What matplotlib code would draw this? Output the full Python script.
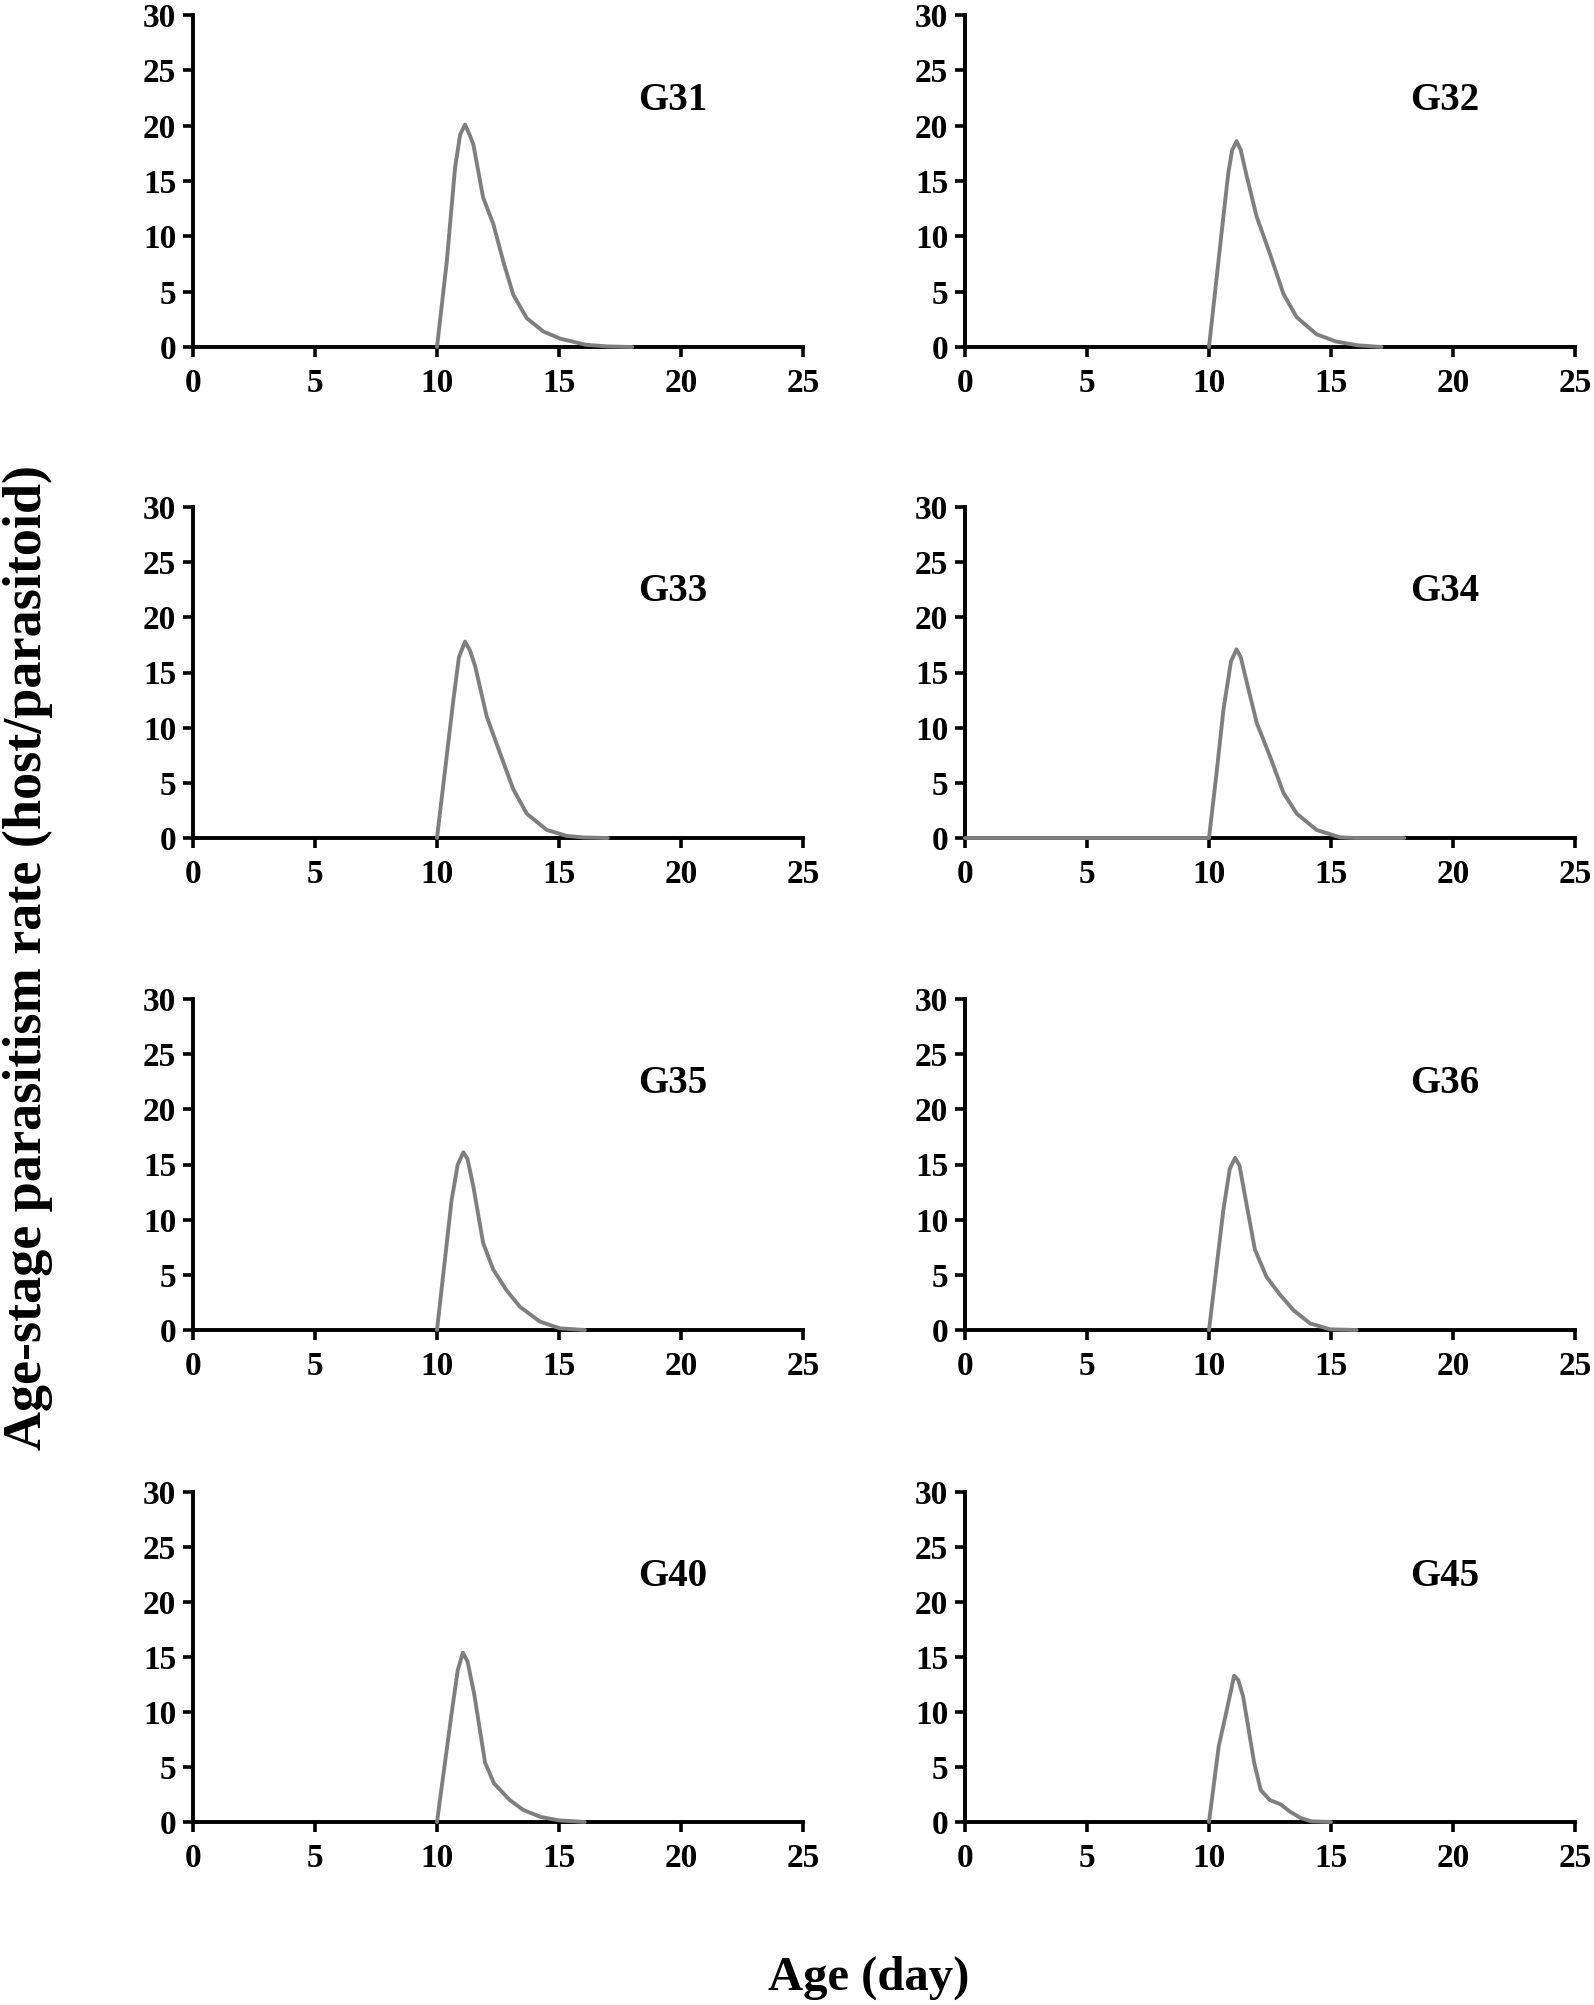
import matplotlib
matplotlib.use("Agg")
import matplotlib.pyplot as plt

plt.rcParams['font.family'] = ['Liberation Serif', 'DejaVu Serif']
plt.rcParams['font.weight'] = 'bold'

panel_names = ["G31", "G32", "G33", "G34", "G35", "G36", "G40", "G45"]

age_G31 = [10, 10.4, 10.74, 10.95, 11.15, 11.35, 11.49, 11.89, 12.31, 12.72, 13.13, 13.68, 14.36, 15.04, 16.1, 17, 18]
val_G31 = [0, 7.7, 16.2, 19.2, 20.1, 19.1, 18.3, 13.5, 11.1, 7.7, 4.7, 2.6, 1.4, 0.76, 0.2, 0.05, 0]

age_G32 = [10, 10.59, 10.79, 10.95, 11.13, 11.3, 11.55, 11.95, 12.5, 13.05, 13.59, 14.41, 15.2, 16.1, 17.07]
val_G32 = [0, 11.8, 15.7, 17.8, 18.6, 17.8, 15.4, 11.8, 8.4, 4.8, 2.7, 1.15, 0.5, 0.15, 0]

age_G33 = [10, 10.67, 10.9, 11.15, 11.35, 11.56, 12.04, 12.58, 13.13, 13.68, 14.5, 15.3, 16, 17]
val_G33 = [0, 12.5, 16.4, 17.8, 17.0, 15.6, 11.0, 7.7, 4.4, 2.2, 0.73, 0.2, 0.05, 0]

age_G34 = [0, 9.7, 10, 10.31, 10.59, 10.9, 11.13, 11.3, 11.55, 11.96, 12.5, 13.05, 13.6, 14.41, 15.37, 16, 18]
val_G34 = [0, 0, 0, 5.9, 11.6, 16.0, 17.1, 16.4, 14.1, 10.4, 7.4, 4.1, 2.2, 0.73, 0.06, 0, 0]

age_G35 = [10, 10.6, 10.85, 11.08, 11.25, 11.49, 11.89, 12.3, 12.85, 13.4, 14.22, 15.04, 16.06]
val_G35 = [0, 11.8, 15.0, 16.1, 15.5, 13.0, 7.9, 5.5, 3.6, 2.1, 0.76, 0.15, 0]

age_G36 = [10, 10.59, 10.85, 11.07, 11.25, 11.48, 11.88, 12.36, 12.91, 13.46, 14.14, 14.96, 16.05]
val_G36 = [0, 10.9, 14.6, 15.6, 14.9, 12.1, 7.3, 4.8, 3.2, 1.8, 0.6, 0.06, 0]

age_G40 = [10, 10.6, 10.85, 11.06, 11.25, 11.52, 11.97, 12.34, 12.98, 13.53, 14.26, 15.0, 16.05]
val_G40 = [0, 9.9, 13.8, 15.4, 14.6, 11.7, 5.4, 3.5, 2.0, 1.1, 0.45, 0.15, 0]

age_G45 = [10, 10.4, 10.76, 11.03, 11.2, 11.4, 11.85, 12.12, 12.49, 12.94, 13.3, 13.76, 14.2, 15.0]
val_G45 = [0, 6.9, 10.5, 13.3, 12.9, 11.4, 5.4, 2.9, 2.0, 1.6, 0.97, 0.36, 0.06, 0]

ages = [age_G31, age_G32, age_G33, age_G34, age_G35, age_G36, age_G40, age_G45]
vals = [val_G31, val_G32, val_G33, val_G34, val_G35, val_G36, val_G40, val_G45]

x_ticks = [0, 5, 10, 15, 20, 25]
y_ticks = [0, 5, 10, 15, 20, 25, 30]

W, H = 1594, 2005
fig = plt.figure(figsize=(W / 100, H / 100), dpi=100)

lefts = [193, 965]
width = 610
tops = [15, 507, 999, 1492]
bottoms = [347, 838, 1330, 1822]

for i, name in enumerate(panel_names):
    r, c = divmod(i, 2)
    ax = fig.add_axes([lefts[c] / W, 1 - bottoms[r] / H, width / W, (bottoms[r] - tops[r]) / H])
    ax.plot(ages[i], vals[i], color='#7f7f7f', lw=2.8, solid_joinstyle='round',
            solid_capstyle='round', zorder=5, clip_on=False)
    ax.set_xlim(0, 25)
    ax.set_ylim(0, 30)
    ax.set_xticks(x_ticks)
    ax.set_yticks(y_ticks)
    for s in ['top', 'right']:
        ax.spines[s].set_visible(False)
    for s in ['left', 'bottom']:
        ax.spines[s].set_linewidth(2.8)
        ax.spines[s].set_color('black')
    ax.tick_params(axis='both', direction='out', length=7, width=2.6, labelsize=24, colors='black')
    ax.tick_params(axis='x', pad=8)
    ax.tick_params(axis='y', pad=5)
    for lab in ax.get_xticklabels() + ax.get_yticklabels():
        lab.set_fontweight('bold')
    ax.text(19.65, 22.3, name, fontsize=28, fontweight='bold', ha='center', va='center')

fig.text(28 / W, 1 - 958 / H, "Age-stage parasitism rate (host/parasitoid)", rotation=90,
         fontsize=39, fontweight='bold', ha='center', va='center')
fig.text(869 / W, 1 - 1978 / H, "Age (day)", fontsize=35, fontweight='bold', ha='center', va='center')

fig.savefig("out.png", dpi=100, facecolor='white')
